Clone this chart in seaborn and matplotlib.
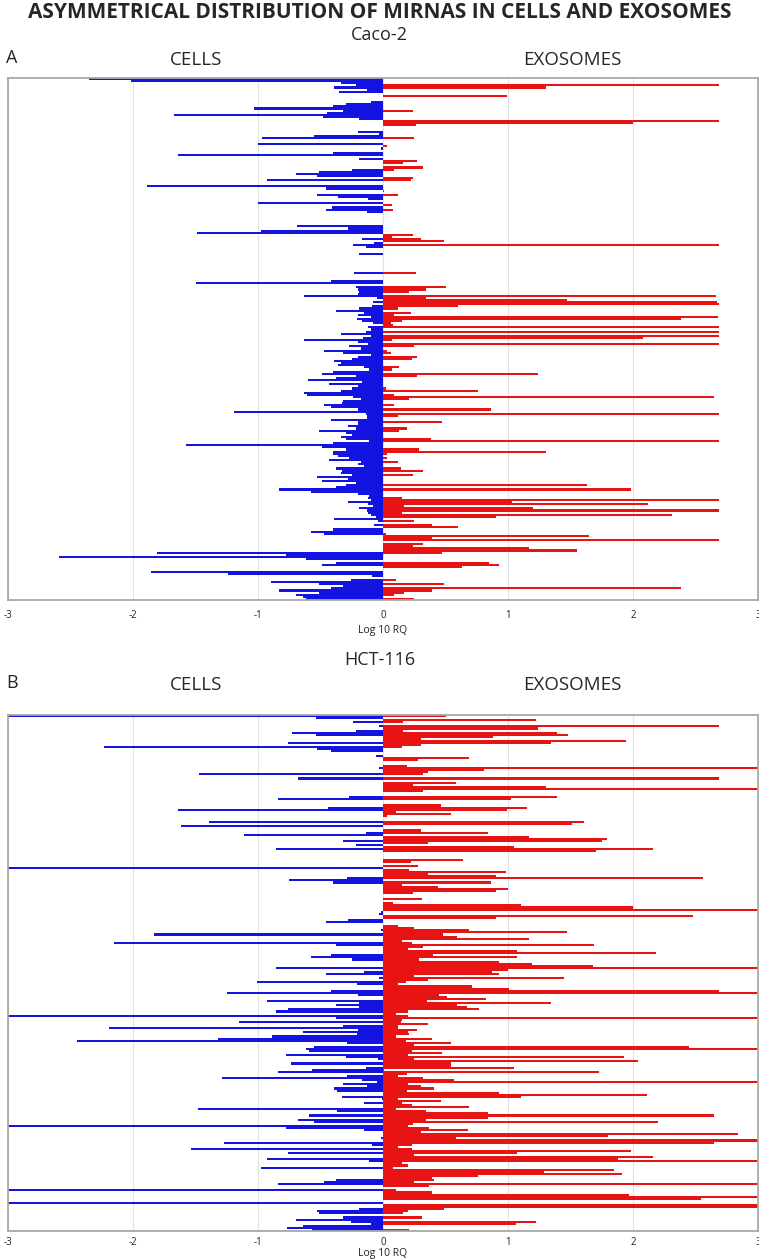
import matplotlib
matplotlib.use("Agg")
import matplotlib.pyplot as plt
import pandas as pd
import seaborn as sns

# log10 RQ per miRNA (one row per miRNA, top to bottom); cells side is negative
CACO_CELLS = [
    -2.35, -2.02, -0.34, -0.22, -0.39, -0.13, -0.35, 0, 0, 0,
    0, -0.1, -0.3, -0.4, -1.03, -0.32, -0.45, -1.67, -0.48, -0.19,
    0, 0, 0, 0, 0, -0.2, -0.03, -0.55, -0.97, 0,
    0, -1.0, 0, -0.02, 0, -0.4, -1.64, 0, -0.19, 0,
    0, 0, 0, -0.25, -0.51, -0.7, -0.53, 0, -0.93, 0,
    0, -1.89, -0.46, 0, 0, -0.53, -0.36, -0.12, 0, -1.0,
    0, -0.41, -0.46, -0.13, 0, 0, 0, 0, 0, 0,
    -0.69, -0.28, -0.98, -1.49, 0, 0, -0.17, 0, -0.07, -0.24,
    -0.14, 0, 0, -0.19, 0, 0, 0, 0, 0, 0,
    0, 0, -0.23, 0, 0, 0, -0.42, -1.5, 0, -0.22,
    -0.2, -0.19, -0.2, -0.63, -0.05, 0, -0.08, 0, -0.09, -0.19,
    -0.38, -0.15, -0.2, -0.1, -0.21, -0.17, -0.08, 0, -0.12, -0.1,
    -0.14, -0.34, -0.1, -0.16, -0.63, -0.2, -0.12, -0.27, -0.18, -0.47,
    -0.32, -0.1, -0.2, -0.25, -0.39, -0.34, -0.36, -0.15, -0.11, -0.4,
    -0.49, -0.22, -0.38, -0.6, -0.17, -0.43, -0.2, -0.25, -0.34, -0.63,
    -0.61, -0.24, -0.18, -0.32, -0.33, -0.47, -0.42, -0.2, -1.19, -0.14,
    -0.13, -0.13, -0.42, -0.2, -0.2, -0.28, -0.22, -0.51, -0.3, -0.25,
    -0.34, -0.3, -0.11, -0.4, -1.58, -0.49, -0.3, -0.4, -0.4, -0.36,
    -0.27, -0.43, -0.18, -0.2, -0.15, -0.38, -0.33, -0.34, -0.25, -0.53,
    -0.28, -0.49, -0.22, -0.3, -0.38, -0.83, -0.58, -0.2, -0.11, -0.12,
    -0.1, -0.28, -0.12, -0.08, -0.19, -0.13, -0.12, -0.1, -0.06, -0.39,
    -0.04, 0, -0.07, 0, -0.4, -0.58, -0.47, 0, 0, 0,
    0, 0, 0, 0, 0, -1.81, -0.78, -2.59, -0.62, 0,
    -0.38, -0.49, 0, 0, -1.86, -1.24, -0.09, 0, -0.26, -0.9,
    -0.51, -0.32, -0.42, -0.83, -0.51, -0.7, -0.64, -0.62,
]
CACO_EXO = [
    0, 0, 0, 2.69, 1.3, 0, 0, 0, 0.99, 0,
    0, 0, 0, 0, 0, 0.24, 0, 0, 0, 0,
    2.69, 2.0, 0.26, 0, 0, 0, 0, 0, 0.25, 0,
    0, 0, 0.03, 0, 0, 0, 0, 0, 0, 0.27,
    0.16, 0, 0.32, 0.09, 0, 0, 0, 0.24, 0.22, 0,
    0, 0, 0, 0.01, 0, 0.12, 0, 0, 0, 0,
    0.07, 0, 0.08, 0, 0, 0, 0, 0, 0, 0,
    0, 0, 0, 0, 0.24, 0.07, 0.3, 0.49, 0, 2.69,
    0, 0, 0, 0, 0, 0, 0, 0, 0, 0,
    0, 0, 0.26, 0, 0, 0, 0, 0, 0, 0.5,
    0.34, 0.21, 0, 2.66, 0.34, 1.47, 2.67, 2.69, 0.6, 0.12,
    0, 0.22, 0.09, 2.68, 2.38, 0.15, 0.06, 0.08, 2.69, 0,
    2.69, 0, 2.69, 2.08, 0.07, 0, 2.69, 0.25, 0, 0.03,
    0.06, 0, 0.27, 0.23, 0, 0, 0, 0.13, 0.07, 0,
    1.24, 0.27, 0, 0, 0, 0, 0, 0.02, 0.76, 0,
    0.09, 2.65, 0.21, 0, 0, 0.09, 0, 0.86, 0, 2.69,
    0.12, 0, 0, 0.47, 0, 0, 0.19, 0.13, 0, 0,
    0, 0.38, 2.69, 0, 0, 0, 0.29, 1.3, 0.03, 0,
    0.03, 0, 0.12, 0, 0, 0.14, 0.32, 0, 0.24, 0,
    0, 0, 0, 1.63, 0, 1.98, 0, 0, 0, 0.15,
    2.69, 1.03, 2.12, 0.17, 1.2, 2.69, 0.15, 2.31, 0.9, 0,
    0.25, 0, 0.39, 0.6, 0, 0, 0.02, 1.65, 0.39, 2.69,
    0, 0.32, 0.24, 1.17, 1.55, 0.47, 0, 0, 0, 0,
    0.85, 0.93, 0.63, 0, 0, 0, 0, 0, 0.1, 0,
    0.49, 0, 2.38, 0.39, 0.17, 0.09, 0, 0.25,
]
HCT_CELLS = [
    -3.0, -0.54, 0, -0.24, 0, -0.03, 0, -0.22, -0.73, -0.54,
    0, 0, 0, -0.76, 0, -2.23, -0.53, -0.42, 0, -0.06,
    0, 0, 0, 0, 0, -0.03, 0, 0, -1.47, 0,
    -0.68, 0, 0, 0, 0, 0, 0, 0, 0, -0.27,
    -0.84, 0, 0, 0, -0.44, -1.64, 0, 0, 0, 0,
    0, -1.39, 0, -1.62, 0, 0, -0.14, -1.11, 0, 0,
    -0.32, 0, -0.22, 0, -0.86, 0, 0, 0, 0, 0,
    0, 0, 0, -3.0, 0, 0, 0, 0, -0.29, -0.75,
    -0.4, 0, 0, 0, 0, 0, 0, 0, 0, 0,
    0, 0, 0, 0, -0.02, -0.03, 0, 0, -0.28, -0.46,
    0, 0, 0, -0.02, 0, -1.83, 0, 0, 0, -2.15,
    -0.38, 0, 0, 0, 0, -0.42, -0.58, -0.25, 0, 0,
    0, -0.86, 0, -0.15, -0.46, 0, -0.03, 0, -1.01, -0.21,
    0, 0, -0.42, -1.25, -0.2, 0, 0, -0.93, -0.19, -0.38,
    -0.19, -0.76, -0.86, 0, -3.0, -0.38, 0, -1.15, 0, -0.32,
    -2.19, -0.2, -0.64, -0.21, -0.89, -1.32, -2.45, -0.29, 0, -0.55,
    -0.62, -0.59, 0, -0.78, -0.3, -0.04, 0, -0.74, 0, -0.14,
    -0.57, -0.84, 0, -0.29, -1.29, -0.17, -0.05, -0.32, -0.13, -0.39,
    -0.37, 0, 0, -0.33, -0.01, 0, -0.15, 0, 0, -1.48,
    -0.37, 0, -0.59, 0, -0.68, -0.55, 0, -3.0, -0.78, -0.15,
    0, 0, 0, -0.02, 0, -1.27, -0.09, 0, -1.54, 0,
    -0.76, 0, 0, -0.93, -0.11, 0, 0, -0.98, 0, 0,
    0, 0, 0, -0.38, -0.47, -0.84, 0, 0, -3.0, 0,
    0, 0, 0, 0, -3.0, 0, 0, -0.19, -0.53, -0.51,
    0, -0.32, -0.7, -0.26, -0.1, -0.64, -0.77, -0.57,
]
HCT_EXO = [
    0.5, 0, 1.22, 0.16, 0, 2.69, 1.24, 0.16, 1.39, 1.48,
    0.88, 0.3, 1.94, 1.34, 0.3, 0.15, 0, 0, 0, 0,
    0.69, 0.28, 0, 0, 0.19, 3.0, 0.81, 0.36, 0.32, 0,
    2.69, 0, 0.58, 0.24, 1.3, 3.0, 0.32, 0, 0, 1.39,
    1.02, 0, 0, 0.46, 1.15, 0.99, 0.1, 0.54, 0.03, 0,
    0, 1.61, 1.51, 0, 0, 0.3, 0.84, 0, 1.17, 1.79,
    1.75, 0.36, 0, 1.05, 2.16, 1.7, 0, 0, 0, 0.64,
    0.22, 0, 0.28, 0, 0.21, 0.98, 0.36, 0.9, 2.56, 0,
    0.86, 0.15, 0.44, 1.0, 0.9, 0.24, 0, 0, 0.31, 0,
    0.08, 1.1, 2.0, 3.0, 0, 0, 2.48, 0.9, 0, 0,
    0, 0.12, 0.25, 0.69, 1.47, 0.48, 0.59, 1.17, 0.15, 0.23,
    1.69, 0.32, 0.2, 1.07, 2.18, 0.4, 1.07, 0.29, 0.93, 1.19,
    1.68, 3.0, 1.0, 0.87, 0.93, 0.25, 1.45, 0.36, 0.18, 0.12,
    0.71, 1.01, 2.69, 3.0, 0.45, 0.51, 0.82, 0.35, 1.34, 0.59,
    0.67, 0.77, 0.2, 0.1, 0.2, 3.0, 0.15, 0.14, 0.36, 0.12,
    0.12, 0.27, 0.2, 0.21, 0.1, 0.39, 0.18, 0.54, 0.25, 2.45,
    3.0, 0.23, 0.47, 0.2, 1.93, 0.25, 2.04, 0.54, 0.54, 1.05,
    0.01, 1.73, 0.19, 0.12, 0.32, 0.57, 3.0, 0.2, 0.3, 0.41,
    0.19, 0.93, 2.11, 1.1, 0.12, 0.46, 0.15, 0.23, 0.69, 0.1,
    0.34, 0.84, 2.65, 0.84, 0.34, 2.2, 0.24, 0.2, 0.37, 0.68,
    0.3, 2.84, 1.8, 0.58, 3.0, 2.65, 0.23, 0.12, 0.23, 1.98,
    1.07, 0.25, 2.16, 1.88, 3.0, 0.15, 0.2, 0.08, 1.85, 1.29,
    1.91, 0.76, 0.39, 0.41, 0.25, 3.0, 0.37, 0, 0.1, 0.39,
    1.97, 3.0, 2.54, 0, 0, 3.0, 3.0, 0.49, 0.2, 0.16,
    0, 0.31, 0, 1.22, 1.06, 0, 0, 0.21,
]

X_TICKS = [-3, -2, -1, 0, 1, 2, 3]
TITLE = "ASYMMETRICAL DISTRIBUTION OF MIRNAS IN CELLS AND EXOSOMES"
PANELS = [
    ("A", "Caco-2", CACO_CELLS, CACO_EXO),
    ("B", "HCT-116", HCT_CELLS, HCT_EXO),
]
CELLS_COLOR = "#1414e0"
EXO_COLOR = "#e81414"

W, H = 759, 1260


def fy(px):
    return 1 - px / H


def draw_panel(fig, box, heads, letter, line, cells, exo, tick_pad, label_pad):
    top, bottom = box
    line_y, head_y = heads
    ax = fig.add_axes([8 / W, fy(bottom), 750 / W, (bottom - top) / H])
    mirna = list(range(len(cells)))
    df = pd.DataFrame({"mirna": mirna, "cells": cells, "exosomes": exo})
    # bars fill their whole row so none of them collapses to a 1 px hairline
    for col, color in [("cells", CELLS_COLOR), ("exosomes", EXO_COLOR)]:
        sns.barplot(
            data=df, x=col, y="mirna", orient="h", color=color,
            width=1.0, saturation=1, errorbar=None, ax=ax,
            edgecolor=color, linewidth=0, antialiased=False,
        )
    ax.set_xlim(-3, 3)
    ax.set_xticks(X_TICKS)
    ax.set_xticklabels([str(t) for t in X_TICKS], fontsize=7, color="#222222")
    ax.set_yticks([])
    ax.set_ylabel("")
    ax.set_xlabel("Log 10 RQ", fontsize=7.5, labelpad=label_pad, color="#222222")
    ax.tick_params(axis="x", length=0, pad=tick_pad)
    ax.grid(axis="x", color="#e2e2e2", linewidth=0.8)
    ax.set_axisbelow(True)
    for s in ax.spines.values():
        s.set_visible(True)
        s.set_color("#a8a8a8")
        s.set_linewidth(1.3)

    fig.text(0.5, fy(line_y), line, ha="center", va="center", fontsize=13)
    fig.text(6 / W, fy(head_y - 2), letter, ha="left", va="center", fontsize=13)
    fig.text(196 / W, fy(head_y), "CELLS", ha="center", va="center", fontsize=13.5)
    fig.text(572 / W, fy(head_y), "EXOSOMES", ha="center", va="center", fontsize=13.5)
    return ax


def main():
    sns.set_theme(style="white")
    plt.rcParams["font.family"] = ["Open Sans", "DejaVu Sans"]
    fig = plt.figure(figsize=(W / 100, H / 100), dpi=100)
    fig.text(0.5, fy(13), TITLE, ha="center", va="center", fontsize=15,
             fontweight="bold")
    boxes = [(78, 600), (715, 1231)]
    heads = [(35, 60), (660, 685)]
    pads = [(7, 3), (4, 0)]
    for box, head, (tp, lp), (letter, line, cells, exo) in zip(boxes, heads, pads, PANELS):
        draw_panel(fig, box, head, letter, line, cells, exo, tp, lp)
    fig.savefig("out.png", dpi=100)


if __name__ == "__main__":
    main()
